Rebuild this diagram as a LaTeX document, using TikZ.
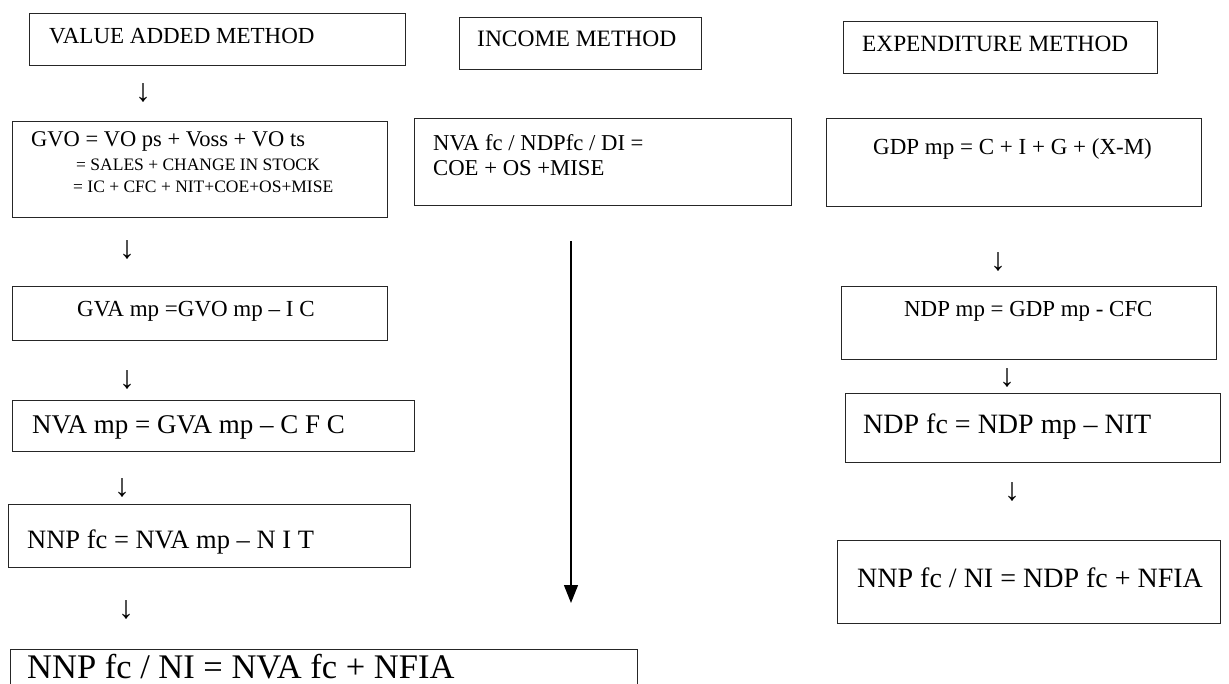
\documentclass[tikz,border=0pt]{standalone}
\usepackage{fontspec}
\setmainfont{Liberation Serif}
\usetikzlibrary{arrows.meta,fit}
\tikzset{
  box/.style={draw=black!85, line width=0.9pt, rectangle, inner sep=0pt},
  txt/.style={anchor=base west, inner sep=0pt, text=black},
  glyph/.style={inner sep=0pt, text=black, font=\fontsize{32}{32}\selectfont},
  flow/.style={draw=black, line width=1.3pt, -{Triangle[width=14pt,length=18pt]}}
}
\newcommand{\mkbox}[5]{\path (#2,#3) coordinate (#1sw) (#4,#5) coordinate (#1ne);
  \node[box, fit=(#1sw)(#1ne)] (#1) {};}
\begin{document}
\begin{tikzpicture}[x=1pt,y=-1pt]
\clip (0,0) rectangle (1229,684);
\fill[white] (0,0) rectangle (1229,684);
% left column
\mkbox{va}{29}{13}{405}{65}
\node[txt, font=\fontsize{23}{23}\selectfont] (vaT) at (49,44) {VALUE ADDED METHOD};
\mkbox{gvo}{12}{121}{387}{217}
\node[txt, font=\fontsize{22.5}{22.5}\selectfont] (gvoA) at (31,147) {GVO = VO ps + Voss + VO ts};
\node[txt, font=\fontsize{17.5}{17.5}\selectfont] (gvoB) at (76,171) {= SALES + CHANGE IN STOCK};
\node[txt, font=\fontsize{17.5}{17.5}\selectfont] (gvoC) at (73,193) {= IC + CFC + NIT+COE+OS+MISE};
\mkbox{gva}{12}{286}{387}{340}
\node[txt, font=\fontsize{23}{23}\selectfont] (gvaT) at (77,317) {GVA mp =GVO mp – I C};
\mkbox{nvm}{12}{400}{414}{451}
\node[txt, font=\fontsize{27}{27}\selectfont] (nvmT) at (32,433) {NVA mp = GVA mp – C F C};
\mkbox{nnp}{8}{504}{410}{567}
\node[txt, font=\fontsize{26.5}{26.5}\selectfont] (nnpT) at (27,548) {NNP fc = NVA mp – N I T};
\mkbox{fin}{10}{649}{637}{720}
\node[txt, text depth=0pt, font=\fontsize{34.5}{34.5}\selectfont] (finT) at (27,678) {NNP fc / NI = NVA fc + NFIA};
% left arrows
\node[glyph] (a1) at (143,93) {↓};
\node[glyph] (a2) at (127,250) {↓};
\node[glyph] (a3) at (127,380) {↓};
\node[glyph] (a4) at (122,488) {↓};
\node[glyph] (a5) at (126,610) {↓};
% middle column
\mkbox{inc}{459}{17}{701}{69}
\node[txt, font=\fontsize{23.5}{23.5}\selectfont] (incT) at (477,47) {INCOME METHOD};
\mkbox{nva}{414}{118}{791}{205}
\node[txt, font=\fontsize{22.7}{22.7}\selectfont] (nvaA) at (433,151) {NVA fc / NDPfc / DI =};
\node[txt, font=\fontsize{22.7}{22.7}\selectfont] (nvaB) at (433,176) {COE + OS +MISE};
\coordinate (inTop) at (571,241);
\coordinate (inTip) at (571,603);
\draw[flow] (inTop) -- (inTip);
% right column
\mkbox{exp}{843}{21}{1157}{73}
\node[txt, font=\fontsize{23.3}{23.3}\selectfont] (expT) at (862,52) {EXPENDITURE METHOD};
\mkbox{gdp}{826}{118}{1201}{206}
\node[txt, font=\fontsize{23}{23}\selectfont] (gdpT) at (873,155) {GDP mp = C + I + G + (X-M)};
\node[glyph] (r1) at (998,262) {↓};
\mkbox{ndm}{841}{286}{1216}{359}
\node[txt, font=\fontsize{22.9}{22.9}\selectfont] (ndmT) at (904,317) {NDP mp = GDP mp - CFC};
\node[glyph] (r2) at (1007,378) {↓};
\mkbox{ndf}{845}{393}{1220}{462}
\node[txt, font=\fontsize{28}{28}\selectfont] (ndfT) at (863,433) {NDP fc = NDP mp – NIT};
\node[glyph] (r3) at (1012,492) {↓};
\mkbox{nnr}{837}{540}{1220}{623}
\node[txt, font=\fontsize{28}{28}\selectfont] (nnrT) at (857,587) {NNP fc / NI = NDP fc + NFIA};
\end{tikzpicture}
\end{document}
